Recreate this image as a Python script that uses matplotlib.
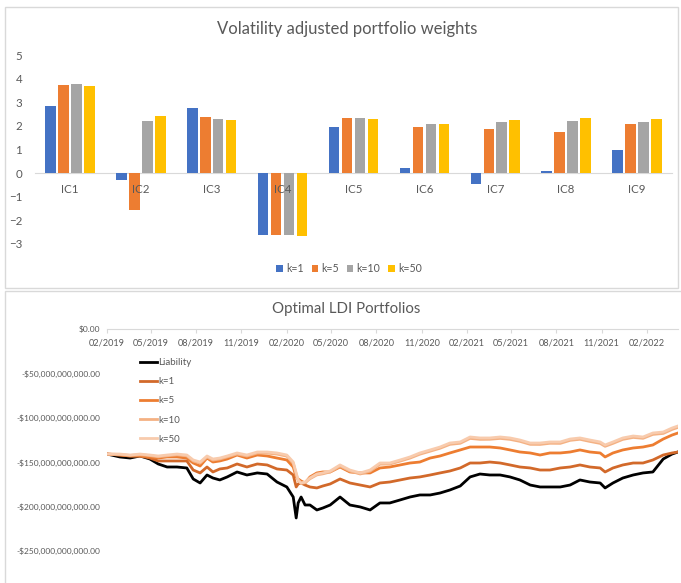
import matplotlib
matplotlib.use("Agg")
import matplotlib.pyplot as plt
import matplotlib.dates as mdates
from matplotlib.patches import Rectangle
from matplotlib.ticker import FuncFormatter
import numpy as np
import pandas as pd

plt.rcParams['font.family'] = ['Lato', 'DejaVu Sans']

# ---- top chart data ----
ics = ["IC1", "IC2", "IC3", "IC4", "IC5", "IC6", "IC7", "IC8", "IC9"]
w_k1 = [2.85, -0.30, 2.75, -2.63, 1.97, 0.20, -0.45, 0.10, 1.00]
w_k5 = [3.73, -1.55, 2.37, -2.60, 2.35, 1.97, 1.88, 1.75, 2.07]
w_k10 = [3.77, 2.20, 2.28, -2.60, 2.35, 2.08, 2.18, 2.20, 2.15]
w_k50 = [3.70, 2.40, 2.25, -2.67, 2.30, 2.08, 2.25, 2.33, 2.30]

# ---- bottom chart data (billions) ----
dates = ["2019-02-01", "2019-02-27", "2019-03-20", "2019-04-09", "2019-04-29", "2019-05-16",
         "2019-06-03", "2019-06-23", "2019-07-13", "2019-07-26", "2019-08-09", "2019-08-23",
         "2019-09-04", "2019-09-18", "2019-10-03", "2019-10-23", "2019-11-12", "2019-12-03",
         "2019-12-23", "2020-01-12", "2020-02-01", "2020-02-14", "2020-02-20", "2020-02-24",
         "2020-03-01", "2020-03-09", "2020-03-19", "2020-04-02", "2020-04-14", "2020-04-29",
         "2020-05-19", "2020-06-08", "2020-06-29", "2020-07-19", "2020-08-08", "2020-08-28",
         "2020-09-18", "2020-10-08", "2020-10-28", "2020-11-18", "2020-12-08", "2020-12-28",
         "2021-01-18", "2021-02-07", "2021-02-27", "2021-03-19", "2021-04-09", "2021-04-29",
         "2021-05-19", "2021-06-09", "2021-06-29", "2021-07-19", "2021-08-09", "2021-08-29",
         "2021-09-18", "2021-10-08", "2021-10-29", "2021-11-08", "2021-11-24", "2021-12-14",
         "2022-01-04", "2022-01-24", "2022-02-13", "2022-03-06", "2022-03-24", "2022-04-05"]

liability = [-140.8, -144.1, -145.3, -143.0, -146.4, -152.0, -155.4, -155.4, -156.5, -168.9,
             -173.4, -164.4, -167.8, -170.0, -166.6, -161.0, -164.4, -162.1, -163.3, -172.3,
             -177.9, -189.2, -212.8, -195.9, -189.2, -198.2, -198.2, -203.8, -201.6, -198.2,
             -189.2, -198.2, -200.4, -203.8, -195.9, -195.9, -192.5, -189.2, -186.9, -186.9,
             -184.7, -181.3, -176.8, -166.6, -163.3, -164.4, -164.4, -166.6, -170.0, -175.7,
             -177.9, -177.9, -177.9, -175.7, -170.0, -172.3, -173.4, -179.0, -173.4, -167.8,
             -164.4, -162.1, -161.0, -146.4, -140.8, -138.5]

port_k1 = [-140.8, -141.9, -143.0, -143.0, -145.3, -148.6, -148.6, -148.6, -148.6, -158.8,
           -162.1, -155.4, -161.0, -157.6, -156.5, -152.0, -155.4, -152.0, -153.1, -157.6,
           -158.8, -164.4, -177.9, -174.5, -173.4, -175.7, -177.9, -179.0, -176.8, -174.5,
           -168.9, -173.4, -175.7, -177.9, -173.4, -172.3, -170.0, -167.8, -166.6, -164.4,
           -162.1, -159.9, -156.5, -150.9, -150.9, -149.8, -150.9, -153.1, -155.4, -156.5,
           -158.8, -158.8, -156.5, -155.4, -153.1, -155.4, -156.5, -161.0, -156.5, -153.1,
           -150.9, -150.9, -147.5, -141.9, -139.6, -138.5]

port_k5 = [-140.8, -141.9, -143.0, -143.0, -144.1, -145.3, -144.1, -144.1, -145.3, -150.9,
           -154.3, -145.3, -149.8, -148.6, -146.4, -141.9, -145.3, -141.9, -143.0, -145.3,
           -147.5, -155.4, -166.6, -168.9, -171.2, -173.4, -166.6, -162.1, -161.0, -161.0,
           -155.4, -161.0, -162.1, -162.1, -156.5, -155.4, -153.1, -150.9, -149.8, -145.3,
           -143.0, -139.6, -136.2, -132.9, -132.9, -132.9, -134.0, -136.2, -138.5, -139.6,
           -141.9, -139.6, -139.6, -138.5, -136.2, -138.5, -139.6, -144.1, -139.6, -136.2,
           -134.0, -132.9, -130.6, -123.9, -119.4, -117.1]

port_k10 = [-140.8, -141.3, -142.4, -141.5, -142.6, -143.9, -142.8, -141.7, -142.9, -148.7,
            -151.0, -144.2, -147.6, -146.4, -144.1, -140.8, -143.1, -139.7, -139.8, -140.9,
            -143.2, -151.1, -163.5, -170.8, -173.9, -173.0, -168.6, -164.3, -163.1, -161.0,
            -154.3, -160.0, -163.3, -160.1, -152.2, -152.1, -148.8, -145.4, -141.0, -137.6,
            -134.3, -129.9, -128.7, -123.2, -124.3, -124.2, -123.2, -124.3, -126.5, -129.9,
            -130.0, -128.7, -128.8, -125.4, -124.2, -126.6, -128.8, -132.1, -128.8, -124.3,
            -122.1, -123.1, -118.7, -117.6, -113.1, -110.8]

port_k50 = [-140.8, -140.8, -141.9, -140.8, -141.9, -143.0, -141.9, -140.8, -141.9, -147.5,
            -149.8, -143.0, -146.4, -145.3, -143.0, -139.6, -141.9, -138.5, -138.5, -139.6,
            -141.9, -149.8, -162.1, -170.0, -173.4, -172.3, -167.8, -163.3, -162.1, -159.9,
            -153.1, -158.8, -162.1, -158.8, -150.9, -150.9, -147.5, -144.1, -139.6, -136.2,
            -132.9, -128.4, -127.2, -121.6, -122.7, -122.7, -121.6, -122.7, -125.0, -128.4,
            -128.4, -127.2, -127.2, -123.9, -122.7, -125.0, -127.2, -130.6, -127.2, -122.7,
            -120.5, -121.6, -117.1, -116.0, -111.5, -109.2]

W, H = 681, 583
fig = plt.figure(figsize=(W / 100, H / 100), dpi=100)
txt = '#595959'
grid_c = '#D9D9D9'


def fx(px):
    return px / W


def fy(py):
    return 1 - py / H


# chart frames
fig.add_artist(Rectangle((fx(5), fy(288)), fx(673), (288 - 7) / H, transform=fig.transFigure,
                         fill=False, edgecolor=grid_c, lw=1))
fig.add_artist(Rectangle((fx(5), -0.05), 1.0, fy(291) + 0.05, transform=fig.transFigure,
                         fill=False, edgecolor=grid_c, lw=1))

# ---- top: bar chart ----
ax1 = fig.add_axes([fx(34.6), fy(244), fx(637.8), (244 - 55) / H])
xpos = np.arange(len(ics))
step = 0.183
bw = 0.148
series = [("k=1", w_k1, '#4472C4'), ("k=5", w_k5, '#ED7D31'),
          ("k=10", w_k10, '#A5A5A5'), ("k=50", w_k50, '#FFC000')]
for i, (lab, vals, col) in enumerate(series):
    ax1.bar(xpos + (i - 1.5) * step, vals, bw, color=col, label=lab, zorder=2)
ax1.set_xlim(-0.5, len(ics) - 0.5)
ax1.set_ylim(-3, 5)
ax1.set_yticks(range(-3, 6))
ax1.set_xticks(xpos)
ax1.set_xticklabels(ics)
for s in ['top', 'right', 'left']:
    ax1.spines[s].set_visible(False)
ax1.spines['bottom'].set_position(('data', 0))
ax1.spines['bottom'].set_color(grid_c)
ax1.spines['bottom'].set_zorder(1)
ax1.xaxis.set_zorder(5)
ax1.tick_params(axis='both', length=0, colors=txt, labelsize=8.3)
ax1.tick_params(axis='x', pad=7.5)
ax1.tick_params(axis='y', pad=9)
fig.text(fx(347.5), fy(29), "Volatility adjusted portfolio weights", ha='center', va='center',
         fontsize=12, color=txt)
h1, l1 = ax1.get_legend_handles_labels()
fig.legend(h1, l1, loc='center', bbox_to_anchor=(fx(349), fy(269)), ncol=4, frameon=False,
           fontsize=7.6, labelcolor=txt, handlelength=0.65, handleheight=0.65,
           handletextpad=0.3, columnspacing=0.7)

# ---- bottom: line chart ----
d = pd.to_datetime(dates)
ax2 = fig.add_axes([fx(107), fy(551), fx(571), (551 - 329) / H])
lines = [("Liability", liability, '#000000'), ("k=1", port_k1, '#D2692A'),
         ("k=5", port_k5, '#ED7D31'), ("k=10", port_k10, '#F4B183'),
         ("k=50", port_k50, '#F8CBAD')]
for lab, vals, col in lines:
    ax2.plot(d, np.array(vals) * 1e9, color=col, lw=2.0, label=lab)
ax2.set_xlim(d[0], d[-1])
ax2.set_ylim(-250e9, 0)
ax2.set_yticks(np.arange(-250e9, 1, 50e9))
ax2.yaxis.set_major_formatter(FuncFormatter(
    lambda v, p: "$0.00" if v == 0 else "-${:,.2f}".format(-v)))
ax2.xaxis.set_major_locator(mdates.MonthLocator(bymonth=[2, 5, 8, 11]))
ax2.xaxis.set_major_formatter(mdates.DateFormatter('%m/%Y'))
for s in ['top', 'right', 'left']:
    ax2.spines[s].set_visible(False)
ax2.spines['bottom'].set_position(('data', 0))
ax2.spines['bottom'].set_color(grid_c)
ax2.tick_params(axis='y', length=0, colors=txt, labelsize=6.0, pad=5)
ax2.tick_params(axis='x', length=3, color=grid_c, labelcolor=txt, labelsize=6.6, pad=4)
fig.text(fx(346.5), fy(309), "Optimal LDI Portfolios", ha='center', va='center',
         fontsize=10.8, color=txt)
ax2.legend(loc='upper left', bbox_to_anchor=(fx(140), fy(358)), bbox_transform=fig.transFigure,
           frameon=False, fontsize=7, labelcolor=txt, handlelength=1.7, handletextpad=0.2,
           labelspacing=1.05, borderaxespad=0, borderpad=0)

fig.savefig("out.png", dpi=100)
